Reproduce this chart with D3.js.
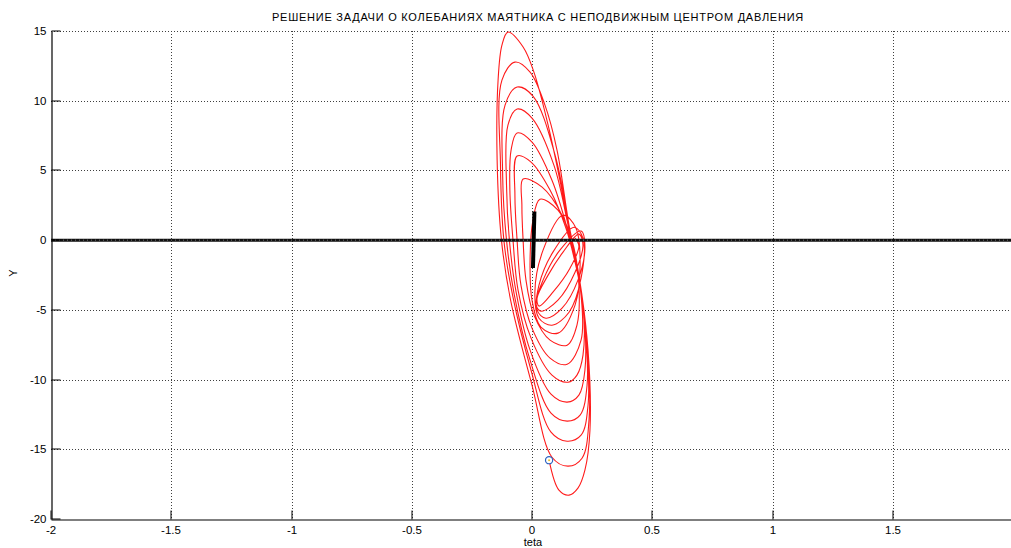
<!DOCTYPE html>
<html><head><meta charset="utf-8">
<script src="https://cdn.jsdelivr.net/npm/d3@7"></script>
<style>
body{margin:0;background:#fff}
svg{display:block}
text{font-family:"Liberation Sans",Arial,Helvetica,sans-serif;fill:#000}
</style>
</head><body>
<svg id="chart" width="1011" height="548"></svg>
<script>
const titleText = "РЕШЕНИЕ ЗАДАЧИ О КОЛЕБАНИЯХ МАЯТНИКА С НЕПОДВИЖНЫМ ЦЕНТРОМ ДАВЛЕНИЯ";
const xLabel = "teta";
const yLabel = "Y";
const xDomain = [-2, 2];
const yDomain = [-20, 15];
const xTicks = [-2, -1.5, -1, -0.5, 0, 0.5, 1, 1.5];
const xTickLabels = ["-2", "-1.5", "-1", "-0.5", "0", "0.5", "1", "1.5"];
const yTicks = [-20, -15, -10, -5, 0, 5, 10, 15];
const yTickLabels = ["-20", "-15", "-10", "-5", "0", "5", "10", "15"];

// phase trajectory, read loop by loop (teta, Y)
const loop01 = [[0.179,0.14],[0.195,-0.43],[0.158,-2.01],[0.087,-3.73],[0.029,-4.73],[0.021,-4.16],[0.067,-2.51],[0.129,-0.86]];
const loop02 = [[0.195,0.43],[0.212,-0.36],[0.179,-2.30],[0.108,-4.30],[0.037,-5.09],[0.017,-4.59],[0.046,-2.87],[0.116,-0.72]];
const loop03 = [[0.204,0.65],[0.220,-0.50],[0.191,-2.87],[0.125,-4.88],[0.058,-5.60],[0.021,-5.02],[0.029,-3.23],[0.087,-0.86]];
const loop04 = [[0.175,0.93],[0.212,0.14],[0.204,-2.73],[0.154,-5.17],[0.083,-6.10],[0.029,-5.60],[0.012,-3.73],[0.046,-0.72]];
const loop05 = [[0.129,1.79],[0.183,0.86],[0.200,-1.79],[0.179,-4.66],[0.108,-6.67],[0.037,-6.24],[0.000,-4.30],[-0.008,-1.43],[0.004,1.43]];
const loop06 = [[0.033,2.94],[0.108,2.15],[0.166,0.00],[0.195,-3.23],[0.187,-6.10],[0.146,-7.53],[0.075,-7.17],[0.008,-5.38],[-0.025,-2.87],[-0.037,0.00],[-0.042,2.51]];
const loop07 = [[-0.037,4.38],[0.042,3.80],[0.125,1.79],[0.166,-0.36],[0.204,-3.95],[0.204,-7.17],[0.146,-8.90],[0.075,-8.46],[0.000,-6.31],[-0.046,-3.23],[-0.062,0.00],[-0.071,3.23]];
const loop08 = [[-0.062,6.03],[-0.004,5.60],[0.075,3.59],[0.141,0.86],[0.179,-1.58],[0.212,-4.66],[0.212,-8.25],[0.187,-9.68],[0.150,-10.19],[0.083,-9.68],[-0.004,-7.03],[-0.058,-3.59],[-0.079,0.00],[-0.092,3.59],[-0.087,6.46]];
const loop09 = [[-0.062,7.68],[0.000,7.03],[0.083,4.30],[0.146,0.86],[0.183,-1.79],[0.216,-5.38],[0.220,-9.33],[0.195,-11.12],[0.146,-11.62],[0.079,-11.05],[-0.008,-7.89],[-0.066,-3.73],[-0.094,0.00],[-0.106,3.95],[-0.100,8.25]];
const loop10 = [[-0.062,9.40],[0.000,8.75],[0.091,5.38],[0.150,1.08],[0.187,-2.01],[0.220,-6.10],[0.229,-10.40],[0.200,-12.55],[0.146,-12.98],[0.079,-12.41],[-0.008,-8.61],[-0.075,-3.80],[-0.106,0.00],[-0.122,4.66],[-0.112,9.68]];
const loop11 = [[-0.062,10.98],[0.004,10.33],[0.096,6.10],[0.154,1.08],[0.191,-2.30],[0.225,-6.82],[0.233,-11.84],[0.204,-13.99],[0.146,-14.42],[0.079,-13.77],[-0.004,-9.33],[-0.080,-4.02],[-0.117,0.00],[-0.131,5.38],[-0.125,11.48]];
const loop12 = [[-0.071,12.77],[-0.008,12.05],[0.054,9.68],[0.104,6.46],[0.154,1.08],[0.195,-2.51],[0.229,-7.17],[0.237,-12.91],[0.208,-15.64],[0.150,-16.21],[0.083,-15.57],[0.000,-10.40],[-0.089,-4.30],[-0.127,0.00],[-0.145,5.74],[-0.141,11.48],[-0.125,13.99]];
const loop13 = [[-0.100,14.92],[-0.037,13.85],[0.008,12.05],[0.067,8.25],[0.116,4.30],[0.158,0.57],[0.200,-3.23],[0.233,-7.89],[0.241,-13.63],[0.220,-16.50],[0.191,-17.79],[0.154,-18.29],[0.112,-17.93],[0.071,-15.78]];

const endPoint = [0.071, -15.78];
const pendulumBar = [[0.010, 2.05], [0.004, -2.0]];
const baseLine = [[-2, 0], [2, 0]];

const svg = d3.select("#chart");
const W = 1011, H = 548;
const L = 51, R = 1013, T = 31, B = 519;
const x = d3.scaleLinear().domain(xDomain).range([L, R]);
const y = d3.scaleLinear().domain(yDomain).range([B, T]);
const crisp = v => Math.round(v) + 0.5;

svg.append("rect").attr("width", W).attr("height", H).attr("fill", "#fff");

const plot = svg.append("g");
const clip = svg.append("clipPath").attr("id", "clipP");
clip.append("rect").attr("x", L).attr("y", T - 1).attr("width", R - L).attr("height", B - T + 2);

// grid
const grid = plot.append("g").attr("stroke", "#000").attr("stroke-width", 1).attr("stroke-dasharray", "1,2").attr("opacity", 0.75);
xTicks.filter(v => v !== xDomain[0]).forEach(v => {
  grid.append("line").attr("x1", crisp(x(v))).attr("x2", crisp(x(v))).attr("y1", T).attr("y2", B);
});
yTicks.filter(v => v !== yDomain[0]).forEach(v => {
  grid.append("line").attr("x1", L).attr("x2", W).attr("y1", crisp(y(v))).attr("y2", crisp(y(v)));
});

const data = svg.append("g").attr("clip-path", "url(#clipP)");
const allLoops = [loop01, loop02, loop03, loop04, loop05, loop06, loop07, loop08, loop09, loop10, loop11, loop12, loop13];
const traj = [].concat(...allLoops);
const line = d3.line().x(d => x(d[0])).y(d => y(d[1])).curve(d3.curveCatmullRom.alpha(0.5));
data.append("path").datum(traj).attr("d", line).attr("fill", "none").attr("stroke", "#ff1a1a").attr("stroke-width", 1.1).attr("stroke-linejoin", "round");

const straight = d3.line().x(d => x(d[0])).y(d => y(d[1]));
data.append("path").datum(baseLine).attr("d", straight).attr("stroke", "#111").attr("stroke-width", 3).attr("fill", "none");
data.append("path").datum(baseLine).attr("d", straight).attr("stroke", "#777").attr("stroke-width", 1).attr("stroke-dasharray", "1,3").attr("fill", "none");
data.append("path").datum(pendulumBar).attr("d", straight).attr("stroke", "#000").attr("stroke-width", 4).attr("fill", "none");

data.append("circle").attr("cx", x(endPoint[0])).attr("cy", y(endPoint[1])).attr("r", 3.6)
  .attr("fill", "#fff").attr("stroke", "#2b62c0").attr("stroke-width", 1.2);
data.append("circle").attr("cx", x(endPoint[0])).attr("cy", y(endPoint[1])).attr("r", 1)
  .attr("fill", "#f0c020");

// axes
const yAxis = d3.axisLeft(y).tickValues(yTicks).tickFormat((d, i) => yTickLabels[i]).tickSizeInner(-9).tickSizeOuter(0).tickPadding(5);
const xAxis = d3.axisBottom(x).tickValues(xTicks).tickFormat((d, i) => xTickLabels[i]).tickSizeInner(-9).tickSizeOuter(0).tickPadding(6);
const gy = svg.append("g").attr("transform", `translate(${L + 0.5},0)`).call(yAxis);
const gx = svg.append("g").attr("transform", `translate(0,${B + 0.5})`).call(xAxis);
[gy, gx].forEach(g => {
  g.selectAll("text").attr("font-size", "11.5px").attr("font-family", "Liberation Sans, Arial, sans-serif").attr("fill", "#000");
  g.selectAll("line").attr("stroke", "#000");
  g.select(".domain").attr("stroke", "#000").attr("stroke-width", 1.2);
});
gy.selectAll(".tick").attr("transform", d => `translate(0,${crisp(y(d)) - 0.5})`);
gx.selectAll(".tick").attr("transform", d => `translate(${crisp(x(d)) - 0.5},0)`);

svg.append("text").attr("x", 538).attr("y", 21).attr("text-anchor", "middle").attr("font-size", "11px").attr("letter-spacing", "0.75px").text(titleText);
svg.append("text").attr("x", 533).attr("y", 546).attr("text-anchor", "middle").attr("font-size", "11px").text(xLabel);
svg.append("text").attr("transform", "translate(17,273) rotate(-90)").attr("text-anchor", "middle").attr("font-size", "11px").text(yLabel);
</script>
</body></html>
